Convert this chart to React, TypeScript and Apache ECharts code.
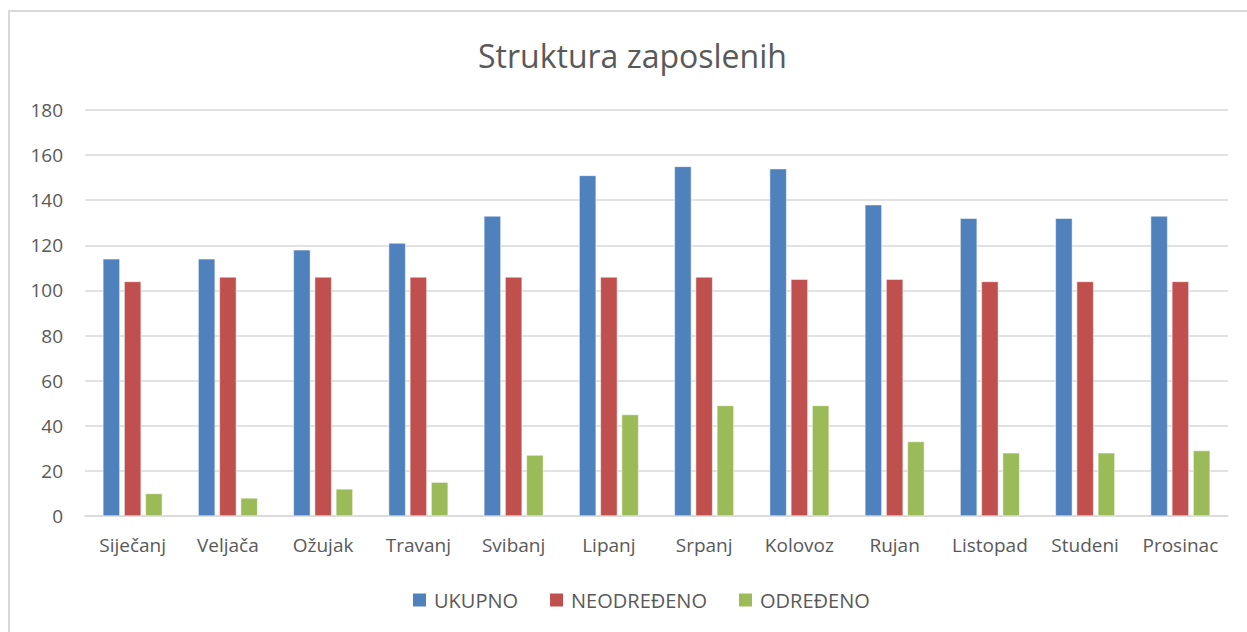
import React, { useEffect, useRef } from "react";
import * as echarts from "echarts";

const categories = ["Siječanj", "Veljača", "Ožujak", "Travanj", "Svibanj", "Lipanj", "Srpanj", "Kolovoz", "Rujan", "Listopad", "Studeni", "Prosinac"];
const ukupno = [114, 114, 118, 121, 133, 151, 155, 154, 138, 132, 132, 133];
const neodredeno = [104, 106, 106, 106, 106, 106, 106, 105, 105, 104, 104, 104];
const odredeno = [10, 8, 12, 15, 27, 45, 49, 49, 33, 28, 28, 29];
const seriesNames = ["UKUPNO", "NEODREĐENO", "ODREĐENO"];
const colors = ["#4F81BD", "#C0504D", "#9BBB59"];

export default function App() {
  const ref = useRef<HTMLDivElement>(null);
  useEffect(() => {
    const chart = echarts.init(ref.current!, null, { renderer: "svg" });
    const font = "'Open Sans', 'Liberation Sans', sans-serif";
    const data = [ukupno, neodredeno, odredeno];
    chart.setOption({
      animation: false,
      backgroundColor: "#ffffff",
      textStyle: { fontFamily: font },
      title: {
        text: "Struktura zaposlenih",
        left: 473,
        top: 34,
        textStyle: { fontSize: 32, fontWeight: "normal", color: "#595959", fontFamily: font },
      },
      graphic: [
        {
          type: "rect",
          shape: { x: 9, y: 11, width: 1250, height: 640 },
          style: { fill: "none", stroke: "#d9d9d9", lineWidth: 2 },
        },
      ],
      legend: {
        data: seriesNames,
        bottom: 17,
        left: 406,
        itemWidth: 15,
        itemHeight: 15,
        itemGap: 30,
        icon: "rect",
        textStyle: { fontSize: 20, color: "#595959", fontFamily: font, padding: [0, 0, 0, 2] },
      },
      grid: { left: 85, right: 19, top: 110, bottom: 116 },
      xAxis: {
        type: "category",
        data: categories,
        axisLine: { lineStyle: { color: "#d9d9d9", width: 1.5 } },
        axisTick: { show: false },
        axisLabel: { fontSize: 19, color: "#595959", margin: 19, interval: 0, fontFamily: font },
      },
      yAxis: {
        type: "value",
        min: 0,
        max: 180,
        interval: 20,
        axisLine: { show: false },
        axisTick: { show: false },
        axisLabel: { fontSize: 19, color: "#595959", margin: 22, fontFamily: font },
        splitLine: { lineStyle: { color: "#d9d9d9", width: 1.5 } },
      },
      series: seriesNames.map((name, i) => ({
        name,
        type: "bar",
        data: data[i],
        barWidth: 17,
        barGap: "25%",
        itemStyle: { color: colors[i], borderColor: "#ffffff", borderWidth: 0.5 },
      })),
    });
    return () => chart.dispose();
  }, []);
  return <div ref={ref} style={{ position: "absolute", left: 0, top: 0, width: 1247, height: 632 }} />;
}
